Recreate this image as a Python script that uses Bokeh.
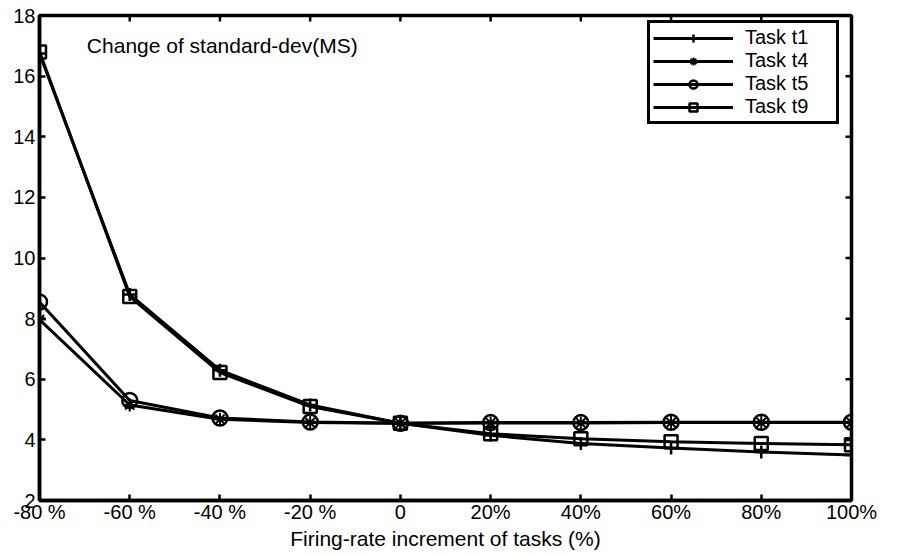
from bokeh.plotting import figure
from bokeh.models import Label, Range1d, FixedTicker, Legend, LegendItem
from bokeh.embed import file_html
from bokeh.resources import INLINE

x_vals = [-80, -60, -40, -20, 0, 20, 40, 60, 80, 100]
x_tick_labels = ["-80 %", "-60 %", "-40 %", "-20 %", "0", "20%", "40%", "60%", "80%", "100%"]
y_ticks = [2, 4, 6, 8, 10, 12, 14, 16, 18]

t1 = [16.75, 8.8, 6.3, 5.15, 4.55, 4.15, 3.88, 3.73, 3.6, 3.5]
t4 = [7.97, 5.15, 4.68, 4.57, 4.55, 4.56, 4.56, 4.57, 4.57, 4.57]
t5 = [8.55, 5.3, 4.72, 4.59, 4.55, 4.57, 4.57, 4.58, 4.58, 4.58]
t9 = [16.8, 8.73, 6.22, 5.1, 4.55, 4.2, 4.04, 3.94, 3.88, 3.84]

FONT = "Liberation Sans"
X0, X1, Y0, Y1 = -80, 100, 2, 18
FRAME_W, FRAME_H = 812, 485
TICK_PX = 6

p = figure(frame_width=FRAME_W, frame_height=FRAME_H, output_backend="svg", toolbar_location=None,
           x_range=Range1d(X0, X1), y_range=Range1d(Y0, Y1),
           min_border_left=39, min_border_right=39, min_border_top=15, min_border_bottom=50)
p.grid.visible = False
p.outline_line_color = "black"
p.outline_line_width = 3.5
p.background_fill_color = "white"

def style_axis(ax):
    ax.axis_line_width = 3.5
    ax.axis_line_color = "black"
    ax.major_tick_in = TICK_PX
    ax.major_tick_out = 0
    ax.major_tick_line_width = 2.5
    ax.major_tick_line_color = "black"
    ax.minor_tick_line_color = None
    ax.major_label_text_font = FONT
    ax.major_label_text_font_size = "20px"
    ax.major_label_text_color = "black"

xa = p.xaxis[0]
style_axis(xa)
xa.ticker = FixedTicker(ticks=x_vals)
xa.major_label_overrides = {v: s for v, s in zip(x_vals, x_tick_labels)}
xa.major_label_standoff = 0
xa.axis_label = "Firing-rate increment of tasks (%)"
xa.axis_label_text_font = FONT
xa.axis_label_text_font_size = "21px"
xa.axis_label_text_font_style = "normal"
xa.axis_label_text_color = "black"
xa.axis_label_standoff = 1

ya = p.yaxis[0]
style_axis(ya)
ya.ticker = FixedTicker(ticks=y_ticks)
ya.major_label_standoff = 4

# inward ticks on the top and right edges of the box
dy = TICK_PX * (Y1 - Y0) / FRAME_H
dx = TICK_PX * (X1 - X0) / FRAME_W
p.segment(x0=x_vals, y0=[Y1] * len(x_vals), x1=x_vals, y1=[Y1 - dy] * len(x_vals),
          line_color="black", line_width=2.5)
p.segment(x0=[X1] * len(y_ticks), y0=y_ticks, x1=[X1 - dx] * len(y_ticks), y1=y_ticks,
          line_color="black", line_width=2.5)

lw = 3
r1 = p.line(x_vals, t1, line_color="black", line_width=lw)
m1 = p.scatter(x_vals, t1, marker="cross", size=13, line_color="black", line_width=2.5)
r4 = p.line(x_vals, t4, line_color="black", line_width=lw)
m4 = p.scatter(x_vals, t4, marker="asterisk", size=13, line_color="black", line_width=2)
r5 = p.line(x_vals, t5, line_color="black", line_width=lw)
m5 = p.scatter(x_vals, t5, marker="circle", size=15, line_color="black", fill_color=None, line_width=2.5)
r9 = p.line(x_vals, t9, line_color="black", line_width=lw)
m9 = p.scatter(x_vals, t9, marker="square", size=13, line_color="black", fill_color=None, line_width=2.5)

legend = Legend(items=[
    LegendItem(label="Task t1", renderers=[r1, m1]),
    LegendItem(label="Task t4", renderers=[r4, m4]),
    LegendItem(label="Task t5", renderers=[r5, m5]),
    LegendItem(label="Task t9", renderers=[r9, m9]),
], location=(608, 376))
legend.label_text_font = FONT
legend.label_text_font_size = "20px"
legend.label_text_color = "black"
legend.glyph_width = 80
legend.glyph_height = 20
legend.label_height = 20
legend.label_width = 88
legend.label_standoff = 12
legend.spacing = 0
legend.padding = 3
legend.margin = 0
legend.border_line_color = "black"
legend.border_line_alpha = 1
legend.border_line_width = 3
legend.background_fill_color = "white"
legend.background_fill_alpha = 1
p.add_layout(legend)

title = Label(x=-69.5, y=17.0, text="Change of standard-dev(MS)", text_font=FONT,
              text_font_size="21px", text_color="black", text_baseline="middle")
p.add_layout(title)

open("out.html", "w").write(file_html(p, INLINE))
